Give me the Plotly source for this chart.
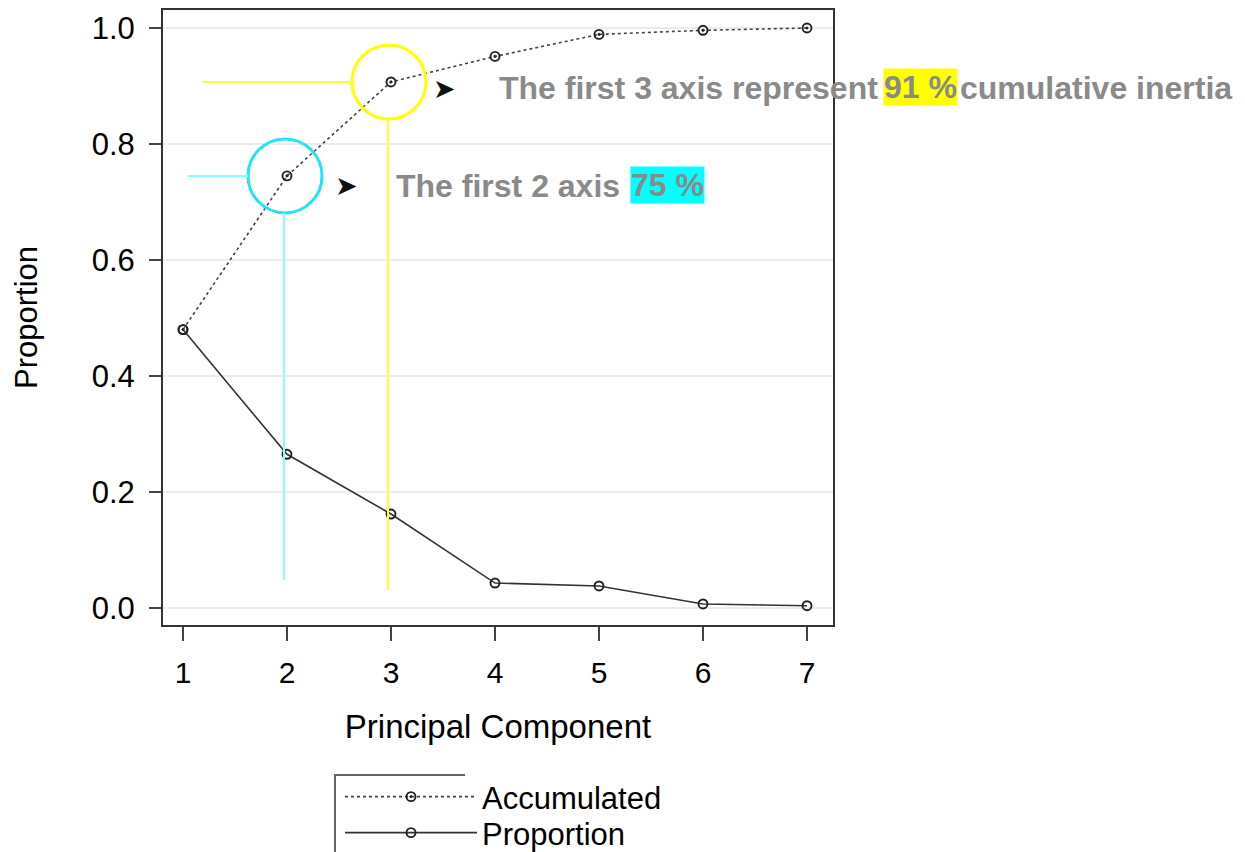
import plotly.graph_objects as go

components = [1, 2, 3, 4, 5, 6, 7]
accumulated = [0.48, 0.745, 0.907, 0.951, 0.989, 0.996, 1.0]
proportion = [0.48, 0.265, 0.162, 0.043, 0.038, 0.007, 0.004]
y_ticks = [0.0, 0.2, 0.4, 0.6, 0.8, 1.0]
y_ticklabels = ['0.0', '0.2', '0.4', '0.6', '0.8', '1.0']

W, H = 1245, 852
# page has an 8px body margin, so shift everything up/left by that
OFF = 8
L, R, T, B = 163 - OFF, 412 + OFF, 10 - OFF, 227 + OFF
PW, PH = W - L - R, H - T - B


def px(x):
    return (x - OFF - L) / PW


def py(y):
    return (H - B - (y - OFF)) / PH


fig = go.Figure()

fig.add_trace(
    go.Scatter(
        x=components,
        y=accumulated,
        mode='lines+markers',
        line=dict(color='#444444', width=1.6, dash='dot'),
        marker=dict(symbol='circle-open-dot', size=9, color='#222222',
                    line=dict(width=1.9)),
        name='Accumulated',
        legend='legend'
    )
)

fig.add_trace(
    go.Scatter(
        x=components,
        y=proportion,
        mode='lines+markers',
        line=dict(color='#333333', width=1.6),
        marker=dict(symbol='circle-open', size=9, color='#222222',
                    line=dict(width=1.9)),
        name='Proportion',
        legend='legend2'
    )
)

shapes = []

# highlight circles + guide lines (cyan on PC2, yellow on PC3)
for idx, circ_col, line_col, left, bottom in [
    (1, '#22e6ee', '#88ffff', -99, 0.048),
    (2, '#ffff00', '#ffff33', -188, 0.031),
]:
    cx, cy = components[idx], accumulated[idx]
    r = 37
    shapes.append(dict(
        type='circle', xref='x', yref='y',
        xsizemode='pixel', ysizemode='pixel',
        xanchor=cx, yanchor=cy,
        x0=-r - 2, x1=r - 2, y0=-r, y1=r,
        line=dict(color=circ_col, width=3)
    ))
    shapes.append(dict(
        type='line', xref='x', yref='y',
        xsizemode='pixel', ysizemode='pixel',
        xanchor=cx, yanchor=cy,
        x0=left, x1=-r - 2, y0=0, y1=0,
        line=dict(color=line_col, width=2)
    ))
    shapes.append(dict(
        type='line', xref='x', yref='y',
        xsizemode='pixel',
        xanchor=cx,
        x0=-3, x1=-3, y0=bottom, y1=cy - r / 580,
        line=dict(color=line_col, width=2)
    ))

# partial legend box (top and left edges)
shapes.append(dict(
    type='path', xref='paper', yref='paper',
    path=f'M {px(335)},{py(860)} L {px(335)},{py(775)} L {px(465)},{py(775)}',
    line=dict(color='#666666', width=2)
))

gray = '#8a8a8a'
bold = 'Liberation Sans, Arial, sans-serif'
annotations = []


def add_text(x, y, text, bg=None, size=32, color=gray):
    annotations.append(dict(
        xref='paper', yref='paper', x=px(x), y=py(y),
        xanchor='left', yanchor='middle', showarrow=False,
        text=f'<b>{text}</b>', font=dict(family=bold, size=size, color=color),
        bgcolor=bg if bg else 'rgba(0,0,0,0)', borderpad=0
    ))


add_text(498, 88, 'The first 3 axis represent')
add_text(883, 87, '91 %', bg='#ffff00')
add_text(959, 88, 'cumulative inertia')
add_text(395, 186, 'The first 2 axis')
add_text(630, 185, '75 %', bg='#00ffff')

for x, y in [(431, 89), (333, 186)]:
    annotations.append(dict(
        xref='paper', yref='paper', x=px(x), y=py(y),
        xanchor='left', yanchor='middle', showarrow=False,
        text='➤', font=dict(family='DejaVu Sans', size=27, color='#111111')
    ))

legend_style = dict(
    xanchor='left', yanchor='middle',
    font=dict(size=31),
    itemwidth=132,
    bgcolor='rgba(0,0,0,0)'
)

fig.update_layout(
    width=W,
    height=H,
    margin=dict(l=L, r=R, t=T, b=B, autoexpand=False),
    paper_bgcolor='white',
    plot_bgcolor='white',
    font=dict(family='Liberation Sans, Arial, sans-serif', color='black'),
    xaxis=dict(
        range=[1 - 20 / 104, 7 + 26 / 104],
        tickvals=components,
        ticktext=[str(c) for c in components],
        ticks='outside', ticklen=14, tickwidth=1.5, tickcolor='#444444',
        tickfont=dict(size=30),
        ticklabelstandoff=6,
        showgrid=False, zeroline=False,
        showline=True, mirror=True, linecolor='#333333', linewidth=2,
        title=dict(text='Principal Component', font=dict(size=33), standoff=27)
    ),
    yaxis=dict(
        range=[-17 / 580, 1 + 18 / 580],
        tickvals=y_ticks,
        ticktext=y_ticklabels,
        ticks='outside', ticklen=12, tickwidth=1.5, tickcolor='#444444',
        tickfont=dict(size=31),
        ticklabelstandoff=8,
        showgrid=True, gridcolor='#ececec', gridwidth=1.5,
        zeroline=False,
        showline=True, mirror=True, linecolor='#333333', linewidth=2,
        title=dict(text='Proportion', font=dict(size=31), standoff=45)
    ),
    showlegend=True,
    legend=dict(x=px(340), y=py(797), **legend_style),
    legend2=dict(x=px(340), y=py(833), **legend_style),
    shapes=shapes,
    annotations=annotations
)

fig.write_html("out.html")
